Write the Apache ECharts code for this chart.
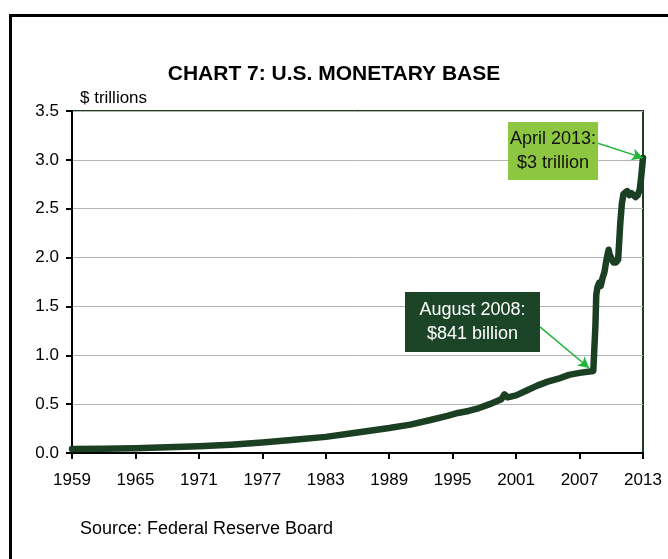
<!DOCTYPE html>
<html>
<head>
<meta charset="utf-8">
<script src="https://cdn.jsdelivr.net/npm/echarts@6/dist/echarts.min.js"></script>
<style>
html,body{margin:0;padding:0;background:#fff;}
#chart{width:668px;height:559px;}
</style>
</head>
<body>
<div id="chart"></div>
<script>
// ---- data (decimal years, $ trillions) ----
const startYear = 1959;
const endYear = 2013;
const tickStep = 6;
const years = [
  1959.0, 1962.0, 1965.0, 1968.0, 1971.0, 1974.0, 1977.0, 1980.0, 1983.0, 1986.0,
  1989.0, 1991.0, 1993.0, 1994.5, 1995.5, 1996.5, 1997.5, 1998.5, 1999.6, 1999.9,
  2000.2, 2001.0, 2002.0, 2003.0, 2004.0, 2005.0, 2006.0, 2007.0, 2008.3, 2008.42,
  2008.5, 2008.58, 2008.7, 2008.85, 2009.0, 2009.15, 2009.35, 2009.55, 2009.75, 2009.85,
  2010.0, 2010.2, 2010.45, 2010.65, 2010.85, 2011.0, 2011.15, 2011.3, 2011.5, 2011.7,
  2011.9, 2012.1, 2012.3, 2012.5, 2012.7, 2012.85, 2013.0
];
const monetaryBase = [
  0.040, 0.043, 0.048, 0.058, 0.068, 0.085, 0.108, 0.135, 0.165, 0.210,
  0.255, 0.290, 0.340, 0.380, 0.410, 0.430, 0.460, 0.500, 0.550, 0.600,
  0.570, 0.590, 0.640, 0.690, 0.730, 0.760, 0.800, 0.820, 0.840, 0.850,
  1.300, 1.620, 1.700, 1.740, 1.710, 1.780, 1.850, 1.980, 2.080, 2.030,
  2.020, 1.950, 1.950, 1.980, 2.350, 2.550, 2.650, 2.640, 2.680, 2.640,
  2.660, 2.640, 2.620, 2.640, 2.700, 2.850, 3.020
];
const yTicks = ['0.0','0.5','1.0','1.5','2.0','2.5','3.0','3.5'];
const annotationTexts = ['April 2013:\n$3 trillion', 'August 2008:\n$841 billion'];
// arrow endpoints in data space: [year, value]
const arrowApril = [[2008.74, 3.17], [2013.0, 3.02]];
const arrowAug = [[2003.26, 1.29], [2007.9, 0.87]];

const FONT = "'Liberation Sans', Arial, sans-serif";
const seriesData = years.map((y, i) => [y - startYear, monetaryBase[i]]);
const toOff = p => [p[0] - startYear, p[1]];

const chart = echarts.init(document.getElementById('chart'), null, {renderer: 'canvas'});
chart.setOption({
  animation: false,
  backgroundColor: '#ffffff',
  textStyle: {fontFamily: FONT},
  grid: {left: 72, right: 25, top: 111, bottom: 106, show: true, borderColor: '#1a3f22', borderWidth: 2, backgroundColor: 'transparent'},
  xAxis: {
    type: 'value', min: 0, max: endYear - startYear, interval: tickStep,
    axisLine: {show: true, onZero: false, lineStyle: {color: '#000', width: 2}},
    axisTick: {show: true, length: 6, lineStyle: {color: '#000', width: 2}},
    axisLabel: {color: '#000', fontSize: 17, fontFamily: FONT, margin: 19,
      formatter: v => String(v + startYear)},
    splitLine: {show: false}
  },
  yAxis: {
    type: 'value', min: 0, max: 3.5, interval: 0.5,
    axisLine: {show: true, lineStyle: {color: '#000', width: 2}},
    axisTick: {show: true, length: 6, lineStyle: {color: '#000', width: 2}},
    axisLabel: {color: '#000', fontSize: 17, fontFamily: FONT, margin: 13,
      formatter: v => yTicks[Math.round(v / 0.5)]},
    splitLine: {show: true, lineStyle: {color: '#b5b5b5', width: 1}}
  },
  series: [{
    type: 'line',
    data: seriesData,
    showSymbol: false,
    smooth: false,
    lineStyle: {color: '#1a3f22', width: 6.5, cap: 'round', join: 'round'},
    z: 3,
    markLine: {
      silent: true,
      symbol: ['none', 'arrow'],
      symbolSize: [9, 11],
      label: {show: false},
      lineStyle: {color: '#1fb53a', width: 1.5, type: 'solid'},
      data: [
        [{coord: toOff(arrowApril[0])}, {coord: toOff(arrowApril[1])}],
        [{coord: toOff(arrowAug[0])}, {coord: toOff(arrowAug[1])}]
      ]
    }
  }],
  graphic: [
    {type: 'rect', left: 8, top: 13, z: 100, shape: {width: 700, height: 600},
      style: {fill: 'none', stroke: '#000', lineWidth: 3}, silent: true},
    {type: 'text', left: 'center', top: 64, z: 100,
      style: {text: 'CHART 7: U.S. MONETARY BASE', font: 'bold 21px ' + FONT, fill: '#000'}},
    {type: 'text', left: 80, top: 90, z: 100,
      style: {text: '$ trillions', font: '17px ' + FONT, fill: '#000'}},
    {type: 'text', left: 80, top: 520, z: 100,
      style: {text: 'Source: Federal Reserve Board', font: '18px ' + FONT, fill: '#000'}},
    {type: 'group', left: 508, top: 122, z: 100, children: [
      {type: 'rect', z: 100, shape: {x: 0, y: 0, width: 90, height: 58}, style: {fill: '#8dc641'}},
      {type: 'text', z: 101, x: 45, y: 29, style: {text: annotationTexts[0], font: '18px ' + FONT, fill: '#111',
        align: 'center', verticalAlign: 'middle', lineHeight: 24}}
    ]},
    {type: 'group', left: 405, top: 292, z: 100, children: [
      {type: 'rect', z: 100, shape: {x: 0, y: 0, width: 135, height: 60}, style: {fill: '#1c4426'}},
      {type: 'text', z: 101, x: 67.5, y: 30, style: {text: annotationTexts[1], font: '18px ' + FONT, fill: '#fff',
        align: 'center', verticalAlign: 'middle', lineHeight: 24}}
    ]}
  ]
});
</script>
</body>
</html>
